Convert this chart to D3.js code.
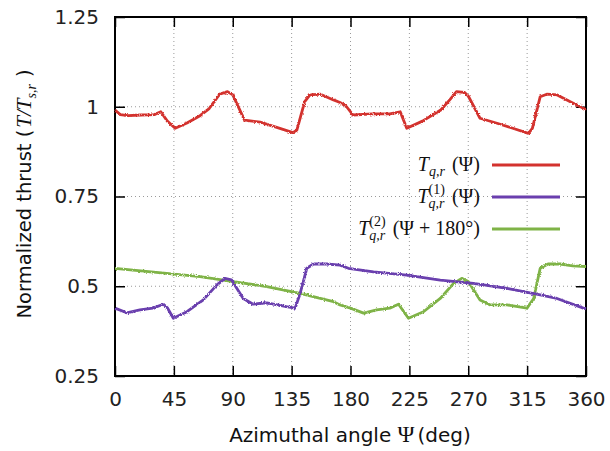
<!DOCTYPE html>
<html><head><meta charset="utf-8">
<script src="https://cdn.jsdelivr.net/npm/d3@7"></script>
<style>body{margin:0;background:#fff}</style>
</head><body>
<svg id="chart" width="610" height="451"></svg>
<script>
// Axis ticks
const xTicks = [0, 45, 90, 135, 180, 225, 270, 315, 360];
const yTicks = [0.25, 0.5, 0.75, 1, 1.25];
const yTickLabels = ["0.25", "0.5", "0.75", "1", "1.25"];

// Total rotor thrust T_{q,r}(Ψ)
const totalAngle = [0, 4, 10, 20, 30, 35, 40, 46, 55, 65, 72, 80, 86, 90, 99, 111, 126, 136, 139, 145, 149, 157, 167, 172, 177, 182, 197, 210, 218, 223, 235, 249, 256, 261, 267, 270, 279, 292, 304, 316, 319, 325, 330, 338, 348, 358, 360];
const totalThrust = [0.991, 0.978, 0.975, 0.977, 0.978, 0.986, 0.96, 0.94, 0.955, 0.975, 0.995, 1.035, 1.042, 1.033, 0.963, 0.957, 0.94, 0.928, 0.935, 1.014, 1.033, 1.035, 1.019, 1.012, 1.0, 0.977, 0.98, 0.98, 0.986, 0.94, 0.96, 0.991, 1.02, 1.042, 1.04, 1.03, 0.968, 0.954, 0.94, 0.926, 0.94, 1.028, 1.035, 1.033, 1.014, 0.996, 0.991];

// Blade 1 thrust T^(1)_{q,r}(Ψ)
const blade1Angle = [0, 9, 19, 29, 37, 40, 44.6, 55, 67.5, 77.7, 84, 89, 98, 105.6, 116, 131, 137.7, 141.5, 146.6, 151.7, 162, 172, 178.4, 197.6, 223, 248.6, 274, 299.6, 325, 337.8, 358, 360];
const blade1Thrust = [0.439, 0.426, 0.434, 0.439, 0.45, 0.44, 0.411, 0.429, 0.462, 0.503, 0.522, 0.518, 0.466, 0.45, 0.454, 0.443, 0.439, 0.48, 0.55, 0.562, 0.562, 0.559, 0.55, 0.54, 0.531, 0.517, 0.508, 0.494, 0.476, 0.466, 0.439, 0.437];

// Blade 2 thrust T^(2)_{q,r}(Ψ + 180°)
const blade2Angle = [0, 13.8, 39.5, 65, 90.5, 116, 141.5, 167, 172, 180, 190, 200, 210, 216.7, 224.3, 235.8, 248.6, 258.8, 265, 270, 279, 286.8, 299.6, 314.9, 320, 325, 331, 340, 350, 360];
const blade2Thrust = [0.55, 0.545, 0.536, 0.527, 0.513, 0.499, 0.48, 0.457, 0.448, 0.439, 0.425, 0.434, 0.439, 0.45, 0.411, 0.429, 0.466, 0.508, 0.522, 0.513, 0.462, 0.448, 0.448, 0.439, 0.466, 0.55, 0.562, 0.562, 0.557, 0.555];

const seriesColors = ["#d3322e", "#6a3fae", "#7fb347"];

const svg = d3.select("#chart");
const L = 115, R = 586, T = 17, B = 376;
const x = d3.scaleLinear().domain([0, 360]).range([L, R]);
const y = d3.scaleLinear().domain([0.25, 1.25]).range([B, T]);

const SANS = "DejaVu Sans, sans-serif";
const SERIF = "Liberation Serif, Times New Roman, serif";

// Dotted grid
const grid = svg.append("g").attr("stroke", "#9a9a9a").attr("stroke-width", 1).attr("stroke-dasharray", "1,3");
xTicks.slice(1, -1).forEach(v => grid.append("line").attr("x1", x(v)).attr("x2", x(v)).attr("y1", T).attr("y2", B));
yTicks.slice(1, -1).forEach(v => grid.append("line").attr("x1", L).attr("x2", R).attr("y1", y(v)).attr("y2", y(v)));

// Axes with inward ticks, mirrored on top and right
const tick = 10;
svg.append("g").attr("transform", `translate(0,${B})`)
  .call(d3.axisBottom(x).tickValues(xTicks).tickSize(-tick).tickPadding(16).tickFormat(d3.format("d")));
svg.append("g").attr("transform", `translate(0,${T})`)
  .call(d3.axisTop(x).tickValues(xTicks).tickSize(-tick).tickFormat(""));
svg.append("g").attr("transform", `translate(${L},0)`)
  .call(d3.axisLeft(y).tickValues(yTicks).tickSize(-tick).tickPadding(16).tickFormat((d, i) => yTickLabels[i]));
svg.append("g").attr("transform", `translate(${R},0)`)
  .call(d3.axisRight(y).tickValues(yTicks).tickSize(-tick).tickFormat(""));
svg.selectAll(".domain").remove();
svg.selectAll(".tick line").attr("stroke", "#000").attr("stroke-width", 1.5);
svg.selectAll(".tick text").attr("font-family", SANS).attr("font-size", 20).attr("fill", "#222");

// Frame
svg.append("rect").attr("x", L).attr("y", T).attr("width", R - L).attr("height", B - T)
  .attr("fill", "none").attr("stroke", "#000").attr("stroke-width", 2);

// Fine jitter of measured signals
const defs = svg.append("defs");
const f = defs.append("filter").attr("id", "jitter").attr("filterUnits", "userSpaceOnUse")
  .attr("x", 0).attr("y", 0).attr("width", 610).attr("height", 451);
f.append("feTurbulence").attr("type", "fractalNoise").attr("baseFrequency", 0.9).attr("numOctaves", 1).attr("seed", 3).attr("result", "n");
f.append("feDisplacementMap").attr("in", "SourceGraphic").attr("in2", "n").attr("scale", 3)
  .attr("xChannelSelector", "R").attr("yChannelSelector", "G");

const line = d3.line().x(d => x(d[0])).y(d => y(d[1]));
const series = [
  d3.zip(totalAngle, totalThrust),
  d3.zip(blade1Angle, blade1Thrust),
  d3.zip(blade2Angle, blade2Thrust)
];
const lines = svg.append("g").attr("filter", "url(#jitter)");
[2, 1, 0].forEach(i => {
  lines.append("path").datum(series[i]).attr("d", line)
    .attr("fill", "none").attr("stroke", seriesColors[i]).attr("stroke-width", 2.8)
    .attr("stroke-linejoin", "round");
});

// Text made of pieces: plain runs and stacked super/subscripts
function rich(g, parts) {
  let cx = 0;
  parts.forEach(p => {
    if (p.text !== undefined) {
      const t = g.append("text").attr("x", cx).attr("y", 0)
        .attr("font-family", p.font).attr("font-size", p.size)
        .attr("font-style", p.italic ? "italic" : "normal").attr("fill", "#111")
        .attr("xml:space", "preserve").text(p.text);
      cx += t.node().getComputedTextLength() + (p.after || 0);
    } else {
      let w = 0;
      if (p.sup) {
        const t = g.append("text").attr("x", cx).attr("y", p.supY)
          .attr("font-family", SERIF).attr("font-size", p.size).attr("fill", "#111").text(p.sup);
        w = Math.max(w, t.node().getComputedTextLength());
      }
      if (p.sub) {
        const t = g.append("text").attr("x", cx).attr("y", p.subY)
          .attr("font-family", SERIF).attr("font-style", "italic").attr("font-size", p.size).attr("fill", "#111").text(p.sub);
        w = Math.max(w, t.node().getComputedTextLength());
      }
      cx += w + (p.after || 0);
    }
  });
  return cx;
}

// Legend
const legendLabels = [
  [{text: "T", font: SERIF, size: 20, italic: true}, {sub: "q,r", subY: 5, size: 14, after: 7}, {text: "(Ψ)", font: SERIF, size: 20}],
  [{text: "T", font: SERIF, size: 20, italic: true}, {sup: "(1)", supY: -9, sub: "q,r", subY: 5, size: 14, after: 7}, {text: "(Ψ)", font: SERIF, size: 20}],
  [{text: "T", font: SERIF, size: 20, italic: true}, {sup: "(2)", supY: -9, sub: "q,r", subY: 5, size: 14, after: 7}, {text: "(Ψ + 180°)", font: SERIF, size: 20}]
];
const legendY = [165, 197, 229];
legendLabels.forEach((parts, i) => {
  const g = svg.append("g");
  const w = rich(g, parts);
  g.attr("transform", `translate(${480 - w},${legendY[i] + 6})`);
  svg.append("line").attr("x1", 492).attr("x2", 560).attr("y1", legendY[i]).attr("y2", legendY[i])
    .attr("stroke", seriesColors[i]).attr("stroke-width", 3);
});

// Axis titles
const xt = svg.append("g");
const xw = rich(xt, [
  {text: "Azimuthal angle ", font: SANS, size: 20},
  {text: "Ψ", font: SERIF, size: 23, after: 3},
  {text: "(deg)", font: SANS, size: 20}
]);
xt.attr("transform", `translate(${350 - xw / 2},442)`);

const yt = svg.append("g");
const yw = rich(yt, [
  {text: "Normalized thrust (", font: SANS, size: 19.5, after: 2},
  {text: "T/T", font: SERIF, size: 21, italic: true},
  {sub: "s,r", subY: 5, size: 14, after: 7},
  {text: ")", font: SANS, size: 19.5}
]);
yt.attr("transform", `translate(31,${194 + yw / 2}) rotate(-90)`);
</script>
</body></html>
